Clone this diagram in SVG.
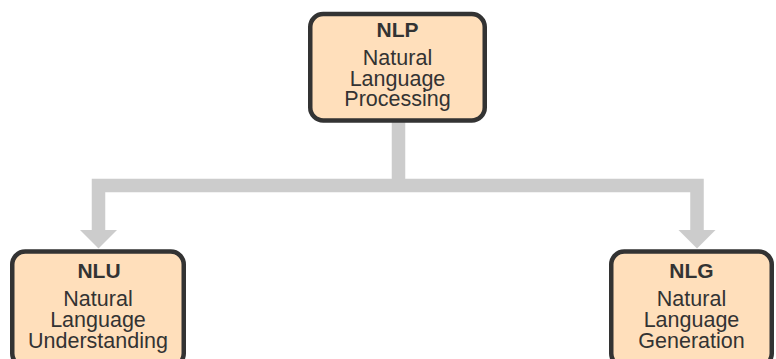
<svg xmlns="http://www.w3.org/2000/svg" width="776" height="359" viewBox="0 0 776 359">
  <style>
    .box { fill: #FFDFBB; stroke: #333333; stroke-width: 4.5; }
    .title { font-family: "Liberation Sans", Arial, sans-serif; font-size: 21px; font-weight: bold; fill: #333333; text-anchor: middle; }
    .body { font-family: "Liberation Sans", Arial, sans-serif; font-size: 21.5px; fill: #333333; text-anchor: middle; }
    .link { fill: none; stroke: #CCCCCC; stroke-width: 13.5; stroke-linejoin: miter; }
    .head { fill: #CCCCCC; }
  </style>

  <!-- connectors -->
  <g id="connectors">
    <path class="link" d="M398.5,120 V185.5 M98.5,231 V185.5 H697 V231"/>
    <polygon class="head" points="80,230 117,230 98.5,248.5"/>
    <polygon class="head" points="678.5,230 715.5,230 697,248.5"/>
  </g>

  <!-- NLP -->
  <g id="nlp">
    <rect class="box" x="310.25" y="14" width="174.5" height="106.5" rx="13" ry="13"/>
    <text class="title" x="397.5" y="37">NLP</text>
    <text class="body" x="397.5" y="64.5">Natural</text>
    <text class="body" x="397.5" y="85.5">Language</text>
    <text class="body" x="397.5" y="105.5">Processing</text>
  </g>

  <!-- NLU -->
  <g id="nlu">
    <rect class="box" x="12.25" y="251.5" width="171.5" height="115" rx="13" ry="13"/>
    <text class="title" x="99" y="278.3">NLU</text>
    <text class="body" x="98" y="306">Natural</text>
    <text class="body" x="98" y="327">Language</text>
    <text class="body" x="98" y="347.5">Understanding</text>
  </g>

  <!-- NLG -->
  <g id="nlg">
    <rect class="box" x="611.25" y="251.5" width="160.5" height="115" rx="13" ry="13"/>
    <text class="title" x="691.5" y="278.3">NLG</text>
    <text class="body" x="691.5" y="306">Natural</text>
    <text class="body" x="691.5" y="327">Language</text>
    <text class="body" x="691.5" y="347.5">Generation</text>
  </g>
</svg>
